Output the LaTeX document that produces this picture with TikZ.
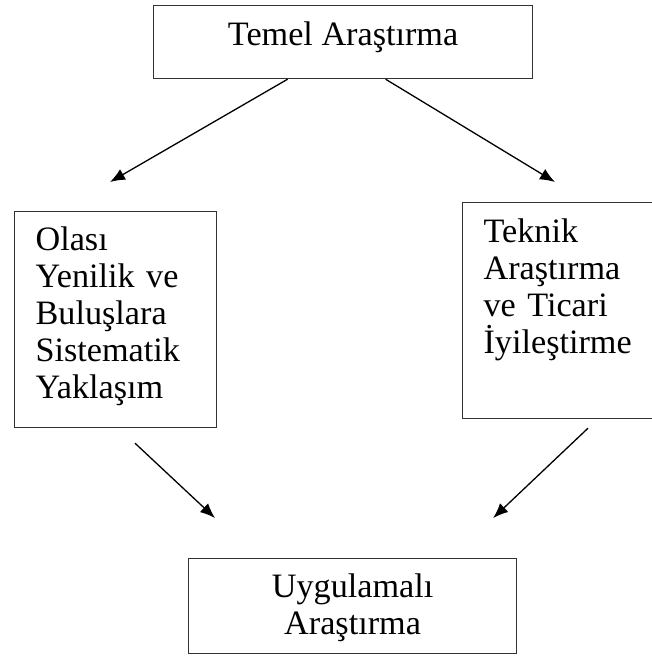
\documentclass[tikz,border=0pt]{standalone}
\usepackage{fontspec}
\setmainfont{Liberation Serif}
\usetikzlibrary{arrows.meta,calc}

\begin{document}
\begin{tikzpicture}[x=1pt,y=-1pt,
        kutu/.style={draw=black!80,line width=1.2pt,inner xsep=21pt,inner ysep=0pt,font=\fontsize{34.2}{37}\selectfont},
        ok/.style={-{Latex[length=15pt,width=12pt]},line width=1.3pt}]
    \useasboundingbox (0,0) rectangle (652,657);
    \node[kutu,anchor=north west,minimum width=379pt,text height=40pt,text depth=33pt] (temel) at (153,5) {Temel Araştırma};
    \node[kutu,anchor=north west,text width=160pt,align=left,text height=39pt,text depth=177pt] (olasi) at (14,211) {Olası\\ Yenilik ve\\ Buluşlara\\ Sistematik\\ Yaklaşım};
    \node[kutu,anchor=north west,text width=148pt,align=left,text height=40pt,text depth=176pt] (teknik) at (462,202) {Teknik\\ Araştırma\\ ve Ticari\\ İyileştirme};
    \node[kutu,anchor=north west,inner xsep=20pt,text width=288pt,align=center,text height=39pt,text depth=56pt] (uyg) at (188,558) {Uygulamalı\\ Araştırma};
    % serbest uçlar
    \coordinate (o1) at ($(olasi.north west)+(96,-29)$);
    \coordinate (t1) at ($(teknik.north west)+(93,-20)$);
    \coordinate (o2) at ($(olasi.south west)+(121,15)$);
    \coordinate (t2) at ($(teknik.south west)+(126,9)$);
    \coordinate (u1) at ($(uyg.north west)+(27,-40)$);
    \coordinate (u2) at ($(uyg.north east)+(-24,-40)$);
    \draw[ok] ($(temel.south)+(-55.5,0)$) -- (o1);
    \draw[ok] ($(temel.south)+(42.5,0)$) -- (t1);
    \draw[ok] (o2) -- (u1);
    \draw[ok] (t2) -- (u2);
\end{tikzpicture}
\end{document}
